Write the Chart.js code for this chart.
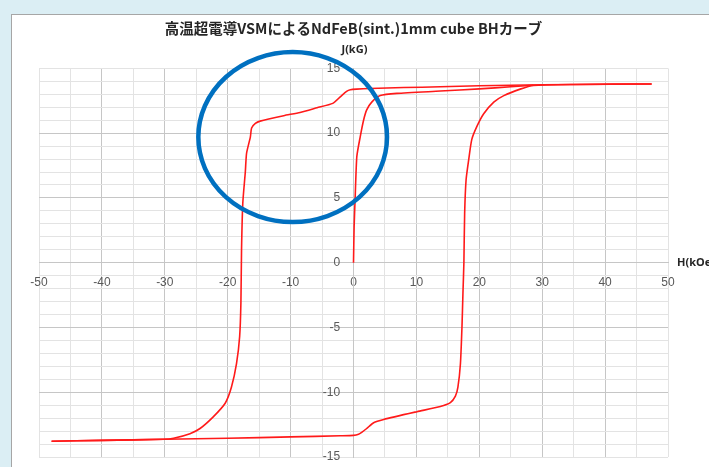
<!DOCTYPE html>
<html>
<head>
<meta charset="utf-8">
<script src="https://cdn.jsdelivr.net/npm/chart.js@4.4.1/dist/chart.umd.min.js"></script>
<style>
  html, body { margin: 0; padding: 0; background: #dbeef4; }
  #wrap { position: relative; width: 709px; height: 467px; overflow: hidden; }
  #panel { position: absolute; left: 11px; top: 14px; width: 720px; height: 470px;
           background: #fff; border: 1px solid #a6a6a6; }
  #bhChart { position: absolute; left: 0; top: 0; }
</style>
</head>
<body>
<div id="wrap">
  <div id="panel"></div>
  <canvas id="bhChart" width="709" height="467"></canvas>
</div>
<script>
// initial magnetization curve
const initH = [0, 0.1, 0.27, 0.53, 1.06, 1.6, 2.1, 2.9, 4.25, 6.9, 13.8, 20, 25, 28.6];
const initJ = [0, 2.8, 5.1, 8.2, 9.7, 11.0, 11.8, 12.4, 12.9, 13.07, 13.25, 13.42, 13.58, 13.7];

// descending branch (+H max -> -H max)
const downH = [47.4, 40, 30, 20, 13.8, 8, 2.6, 0.5, -0.5, -1.1, -2.1, -3.3, -5.8, -8.5, -11.1, -14.85, -15.6, -16.2, -16.4, -17.0, -17.2, -17.6, -17.8, -17.9, -18.1, -18.6, -19.4, -20.4, -22.3, -24.4, -26, -28.6, -30.2, -40, -48];
const downJ = [13.8, 13.78, 13.74, 13.66, 13.58, 13.52, 13.45, 13.4, 13.35, 13.22, 12.8, 12.3, 11.96, 11.6, 11.35, 10.93, 10.75, 10.4, 9.7, 8.45, 7.0, 4.6, 1.0, -3.1, -5.7, -7.8, -9.6, -10.85, -11.9, -12.8, -13.2, -13.55, -13.63, -13.72, -13.78];

// ascending branch (-H max -> +H max)
const upH = [-48, -40, -30, -20, -10, -2.1, 0, 0.8, 1.3, 2.1, 3.2, 4.8, 10.1, 13.8, 15.4, 16.2, 16.6, 17.0, 17.25, 17.4, 17.55, 17.67, 17.9, 18.3, 18.8, 19.6, 20.7, 22.3, 23.9, 26.5, 28.6, 35, 47.4];
const upJ = [-13.78, -13.72, -13.63, -13.55, -13.45, -13.36, -13.33, -13.25, -13.1, -12.8, -12.35, -12.1, -11.5, -11.1, -10.8, -10.3, -9.6, -7.8, -4.9, -2.36, 0, 3.8, 6.4, 7.9, 9.5, 10.5, 11.5, 12.4, 12.9, 13.4, 13.68, 13.76, 13.8];

const xTickLabels = [-50, -40, -30, -20, -10, 0, 10, 20, 30, 40, 50];
const yTickLabels = [-15, -10, -5, 0, 5, 10, 15];

// blue ring marking the second-quadrant knee (data units)
const ring = { h: -9.67, j: 9.7, rh: 15.0, rj: 6.56 };

function branch(hs, js) {
    return {
        data: hs.map(function(h, i) { return { x: h, y: js[i] }; }),
        showLine: true,
        borderColor: '#ff1a1a',
        backgroundColor: '#ff1a1a',
        borderWidth: 1.6,
        pointRadius: 0,
        tension: 0.2
    };
}

const extras = {
    id: 'extras',
    afterDatasetsDraw: function(chart) {
        const c = chart.ctx;
        const xs = chart.scales.x, ys = chart.scales.y;
        c.save();
        // ring
        const cx = xs.getPixelForValue(ring.h), cy = ys.getPixelForValue(ring.j);
        const rx = Math.abs(xs.getPixelForValue(ring.h + ring.rh) - cx);
        const ry = Math.abs(ys.getPixelForValue(ring.j + ring.rj) - cy);
        c.beginPath();
        c.ellipse(cx, cy, rx, ry, 0, 0, Math.PI * 2);
        c.lineWidth = 4.5;
        c.strokeStyle = '#0070c0';
        c.stroke();
        // axis titles
        c.fillStyle = '#262626';
        c.font = 'bold 11px "Noto Sans", sans-serif';
        c.textBaseline = 'middle';
        c.textAlign = 'left';
        c.fillText('J(kG)', xs.getPixelForValue(0) - 12, chart.chartArea.top - 19);
        c.fillText('H(kOe)', chart.chartArea.right + 9, ys.getPixelForValue(0));
        c.restore();
    }
};

new Chart(document.getElementById('bhChart'), {
    type: 'scatter',
    data: {
        datasets: [branch(initH, initJ), branch(downH, downJ), branch(upH, upJ)]
    },
    options: {
        responsive: false,
        animation: false,
        layout: { padding: { left: 39, right: 41, top: 20, bottom: 10 } },
        plugins: {
            legend: { display: false },
            tooltip: { enabled: false },
            title: {
                display: true,
                text: '高温超電導VSMによるNdFeB(sint.)1mm cube BHカーブ',
                color: '#262626',
                font: { family: '"Noto Sans CJK JP", sans-serif', size: 14.5, weight: 'bold', lineHeight: 1.2 },
                padding: { top: 0, bottom: 31 }
            }
        },
        scales: {
            x: {
                type: 'linear',
                min: -50, max: 50,
                position: { y: 0 },
                afterFit: function(s) { s.paddingLeft = s.paddingRight = s.paddingTop = s.paddingBottom = 0; },
                ticks: {
                    stepSize: 5,
                    autoSkip: false,
                    maxRotation: 0,
                    color: '#595959',
                    font: { family: '"Liberation Sans", sans-serif', size: 12 },
                    callback: function(v) { return xTickLabels.includes(v) ? String(v) : ''; }
                },
                grid: {
                    color: function(ctx) {
                        const v = ctx.tick ? ctx.tick.value : 0;
                        return (v % 10 === 0 && Math.abs(v) < 50) ? '#c6c6c6' : '#e3e3e3';
                    },
                    tickColor: 'rgba(0,0,0,0)',
                    tickLength: 10
                },
                border: { color: '#c6c6c6' }
            },
            y: {
                type: 'linear',
                min: -15, max: 15,
                position: { x: 0 },
                afterFit: function(s) { s.paddingLeft = s.paddingRight = s.paddingTop = s.paddingBottom = 0; },
                ticks: {
                    stepSize: 1,
                    autoSkip: false,
                    color: '#595959',
                    font: { family: '"Liberation Sans", sans-serif', size: 12 },
                    // labels sit on the axis itself, so pad them with trailing spaces
                    callback: function(v) { return yTickLabels.includes(v) ? v + '    ' : ''; }
                },
                grid: {
                    color: function(ctx) {
                        const v = ctx.tick ? ctx.tick.value : 0;
                        return (v % 5 === 0 && Math.abs(v) < 15) ? '#c6c6c6' : '#e3e3e3';
                    },
                    tickColor: 'rgba(0,0,0,0)',
                    tickLength: 10
                },
                border: { color: '#c6c6c6' }
            }
        }
    },
    plugins: [extras]
});
</script>
</body>
</html>
